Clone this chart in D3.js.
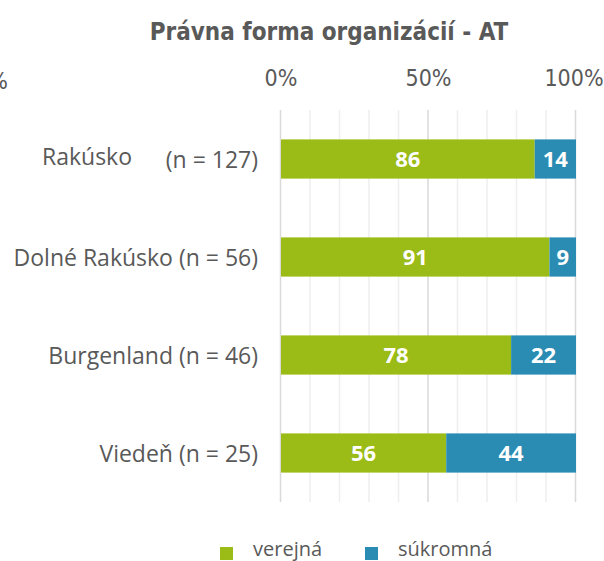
<!DOCTYPE html>
<html>
<head>
<meta charset="utf-8">
<script src="https://cdn.jsdelivr.net/npm/d3@7"></script>
<style>
  body { margin: 0; background: #fff; }
  svg { display: block; }
</style>
</head>
<body>
<div class="display"></div>
<script>
var categories = ["Rakúsko", "Dolné Rakúsko", "Burgenland", "Viedeň"];
var sampleSizes = [127, 56, 46, 25];
var verejna = [86, 91, 78, 56];
var sukromna = [14, 9, 22, 44];
var seriesNames = ["verejná", "súkromná"];
var seriesColors = ["#9bbb17", "#2b8cb3"];
var tickValues = [0, 50, 100];
var gridValues = d3.range(0, 101, 10);

var width = 604, height = 561;
var labelFont = "'Open Sans', sans-serif";
var tickFont = "'Liberation Sans Narrow', 'DejaVu Sans Condensed', sans-serif";

var svg = d3.select(".display")
  .append("svg")
  .attr("width", width)
  .attr("height", height);

var x = d3.scaleLinear().domain([0, 100]).range([280.5, 575.5]);
var y = d3.scaleBand().domain(categories).range([110, 502]).paddingInner(0.6).paddingOuter(0.3);

// title
svg.append("text")
  .attr("x", 329).attr("y", 40)
  .attr("text-anchor", "middle")
  .attr("font-family", "'DejaVu Sans Condensed', 'DejaVu Sans', sans-serif")
  .attr("font-weight", "bold")
  .attr("font-size", 24)
  .attr("fill", "#595959")
  .text("Právna forma organizácií - AT");

// clipped tick of neighbour chart
svg.append("text")
  .attr("x", 8).attr("y", 89)
  .attr("text-anchor", "end")
  .attr("font-family", tickFont)
  .attr("font-size", 23)
  .attr("fill", "#595959")
  .text("0%");

// grid
svg.append("g").selectAll("line")
  .data(gridValues)
  .enter().append("line")
  .attr("x1", function(d) { return x(d); })
  .attr("x2", function(d) { return x(d); })
  .attr("y1", 110).attr("y2", 502)
  .attr("stroke", function(d) { return d % 50 === 0 ? "#d9d9d9" : "#eeeeee"; })
  .attr("stroke-width", 1.5);

// top axis
var axis = d3.axisTop(x).tickValues(tickValues).tickSize(0)
  .tickFormat(function(d) { return d + "%"; });
var axisG = svg.append("g").attr("transform", "translate(0,89)").call(axis);
axisG.select(".domain").remove();
axisG.selectAll("text")
  .attr("dy", 0)
  .attr("font-family", tickFont)
  .attr("font-size", 23)
  .attr("fill", "#595959");
axisG.selectAll(".tick:last-of-type text").attr("dx", -2);

// stacked bars
var rows = categories.map(function(c, i) {
  return { cat: c, vals: [verejna[i], sukromna[i]] };
});

rows.forEach(function(row) {
  var start = 0;
  row.vals.forEach(function(v, j) {
    var x0 = x(start), x1 = x(start + v);
    svg.append("rect")
      .attr("x", x0 + 0.5)
      .attr("y", y(row.cat))
      .attr("width", x1 - x0)
      .attr("height", y.bandwidth())
      .attr("fill", seriesColors[j]);
    svg.append("text")
      .attr("x", (x0 + x1) / 2 + 0.5)
      .attr("y", y(row.cat) + y.bandwidth() / 2 + 8)
      .attr("text-anchor", "middle")
      .attr("font-family", labelFont)
      .attr("font-weight", "bold")
      .attr("font-size", 22)
      .attr("fill", "#fff")
      .text(v);
    start += v;
  });
});

// category labels
categories.forEach(function(c, i) {
  var cy = y(c) + y.bandwidth() / 2 + 8.5;
  if (i === 0) {
    svg.append("text")
      .attr("x", 87).attr("y", cy - 3)
      .attr("text-anchor", "middle")
      .attr("font-family", labelFont).attr("font-size", 23).attr("fill", "#595959")
      .text(c);
    svg.append("text")
      .attr("x", 258).attr("y", cy)
      .attr("text-anchor", "end")
      .attr("font-family", labelFont).attr("font-size", 23).attr("fill", "#595959")
      .text("(n = " + sampleSizes[i] + ")");
  } else {
    svg.append("text")
      .attr("x", 258).attr("y", cy)
      .attr("text-anchor", "end")
      .attr("font-family", labelFont).attr("font-size", 23).attr("fill", "#595959")
      .text(c + " (n = " + sampleSizes[i] + ")");
  }
});

// legend
var legendX = [220, 365];
seriesNames.forEach(function(name, i) {
  svg.append("rect")
    .attr("x", legendX[i]).attr("y", 547)
    .attr("width", 13).attr("height", 13)
    .attr("fill", seriesColors[i]);
  svg.append("text")
    .attr("x", legendX[i] + 33).attr("y", 556)
    .attr("font-family", labelFont).attr("font-size", 20).attr("fill", "#595959")
    .text(name);
});
</script>
</body>
</html>
